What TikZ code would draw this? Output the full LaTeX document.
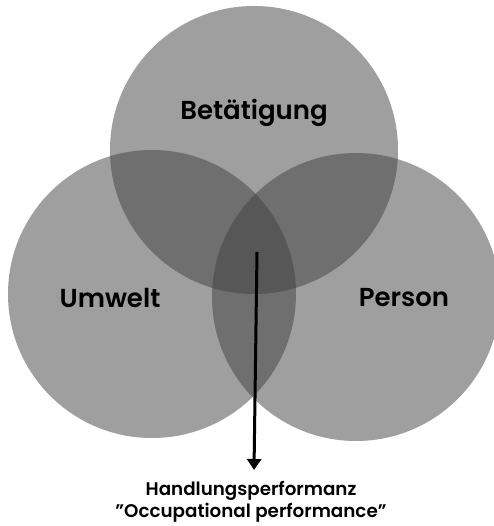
\documentclass[tikz,border=0pt]{standalone}
\usepackage{fontspec}
\setmainfont{Poppins}[UprightFont=* SemiBold,BoldFont=* SemiBold]
\usetikzlibrary{arrows.meta}

\tikzset{
	venn/.style={circle,minimum size=288pt,inner sep=0pt,fill=black!75,fill opacity=0.5},
	setlabel/.style={font=\fontsize{26}{30}\selectfont},
	resultlabel/.style={align=center,font=\fontsize{18.3}{22.5}\selectfont}
}

\begin{document}
\begin{tikzpicture}[x=1pt,y=-1pt]
	\useasboundingbox[fill=white] (0,0) rectangle (493,526);
	
	\node[venn] (occupation) at (254,150){};
	\node[venn] (environment) at (152,294){};
	\node[venn] (person) at (356,297){};
	
	\node[setlabel] (occlabel) at (254,113){Betätigung};
	\node[setlabel] (envlabel) at (110,298){Umwelt};
	\node[setlabel] (perlabel) at (404,298){Person};
	
	\node[resultlabel] (performance) at (251,502){Handlungsperformanz\\"Occupational performance"};
	
	\coordinate (core) at (257,252);
	\coordinate (tip) at (254,470);
	\draw[line width=3pt,-{Triangle[length=11pt,width=14pt]}] (core) -- (tip);
\end{tikzpicture}
\end{document}
